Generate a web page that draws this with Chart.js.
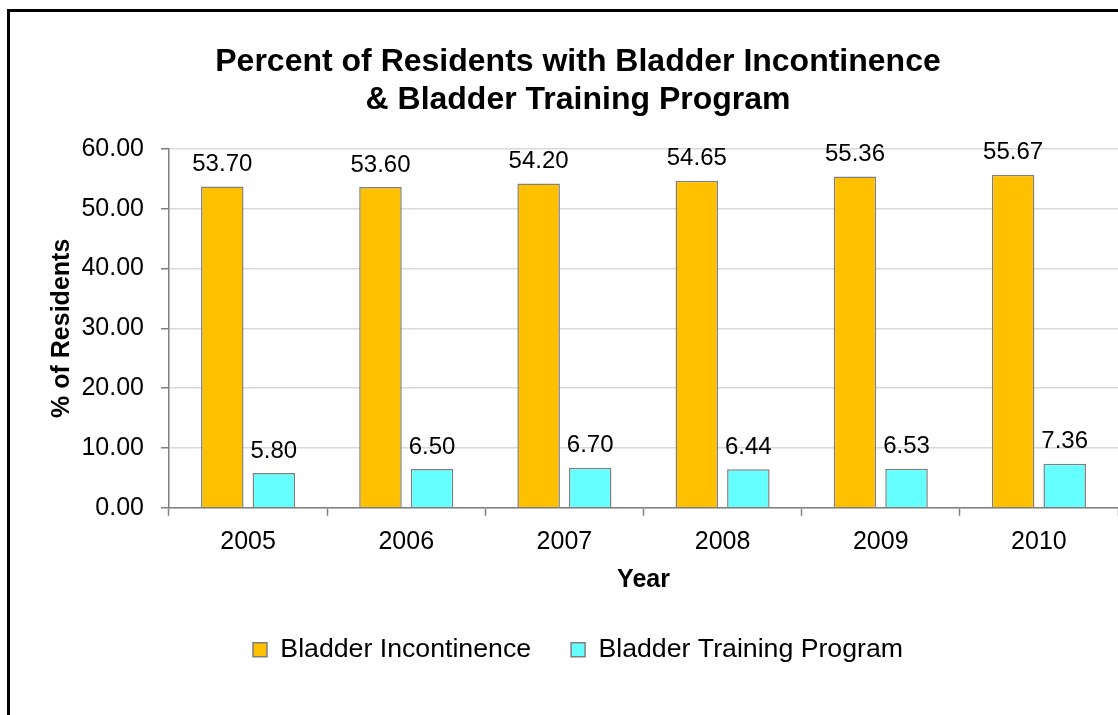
<!DOCTYPE html>
<html>
<head>
<meta charset="utf-8">
<script src="https://cdn.jsdelivr.net/npm/chart.js@4.4.1/dist/chart.umd.min.js"></script>
<style>
  html, body { margin: 0; padding: 0; background: #ffffff; overflow: hidden; width: 1118px; height: 715px; }
  #frame { position: absolute; left: 7px; top: 9px; width: 2000px; height: 2000px; border-left: 3px solid #000; border-top: 3px solid #000; box-sizing: border-box; }
  #wrap { position: absolute; left: 38px; top: 0; width: 1120px; height: 715px; }
</style>
</head>
<body>
<div id="frame"></div>
<div id="wrap"><canvas id="c" width="1120" height="715"></canvas></div>
<script>
const categories = ['2005', '2006', '2007', '2008', '2009', '2010'];
const incontinence = [53.70, 53.60, 54.20, 54.65, 55.36, 55.67];
const training = [5.80, 6.50, 6.70, 6.44, 6.53, 7.36];
const seriesNames = ['Bladder Incontinence', 'Bladder Training Program'];
const titleLines = ['Percent of Residents with Bladder Incontinence', '& Bladder Training Program'];
const yMin = 0, yMax = 60, yStep = 10;

const FONT = "'Liberation Sans', Arial, sans-serif";

const valueLabels = {
  id: 'valueLabels',
  afterDatasetsDraw(chart) {
    const ctx = chart.ctx;
    ctx.save();
    ctx.font = '24px ' + FONT;
    ctx.fillStyle = '#000';
    ctx.textAlign = 'center';
    ctx.textBaseline = 'middle';
    chart.data.datasets.forEach((ds, di) => {
      const meta = chart.getDatasetMeta(di);
      meta.data.forEach((bar, i) => {
        ctx.fillText(ds.data[i].toFixed(2), bar.x, bar.y - 22);
      });
    });
    ctx.restore();
  }
};

new Chart(document.getElementById('c'), {
  type: 'bar',
  data: {
    labels: categories,
    datasets: [
      { label: seriesNames[0], data: incontinence, backgroundColor: '#FFC000', borderColor: '#7F7F7F', borderWidth: 1.5,
        categoryPercentage: 0.652, barPercentage: 0.825 },
      { label: seriesNames[1], data: training, backgroundColor: '#66FFFF', borderColor: '#7F7F7F', borderWidth: 1.5,
        categoryPercentage: 0.652, barPercentage: 0.825 }
    ]
  },
  options: {
    responsive: false,
    animation: false,
    events: [],
    layout: { padding: { left: 0, right: 40, top: 0, bottom: 42 } },
    plugins: {
      title: {
        display: true,
        text: titleLines,
        color: '#000',
        font: { family: FONT, size: 32, weight: 'bold', lineHeight: 1.2 },
        padding: { top: 43, bottom: 29 }
      },
      legend: {
        display: true,
        position: 'bottom',
        labels: {
          color: '#000',
          font: { family: FONT, size: 26.7 },
          boxWidth: 14,
          boxHeight: 14,
          padding: 40
        }
      },
      tooltip: { enabled: false }
    },
    scales: {
      x: {
        grid: { offset: true, drawOnChartArea: false, tickLength: 8, tickColor: '#808080', tickWidth: 1.5 },
        border: { color: '#808080', width: 1.5 },
        ticks: { color: '#000', font: { family: FONT, size: 25 }, padding: 11, maxRotation: 0 },
        title: { display: true, text: 'Year', color: '#000', font: { family: FONT, size: 25, weight: 'bold', lineHeight: 1.0 }, padding: { top: 0, bottom: 3.5 } }
      },
      y: {
        min: yMin, max: yMax,
        afterFit(scale) { scale.width = 131; },
        grid: { color: '#D9D9D9', tickColor: '#808080', tickLength: 8, lineWidth: 1.5, tickWidth: 1.5 },
        border: { color: '#808080', width: 1.5 },
        ticks: { stepSize: yStep, color: '#000', font: { family: FONT, size: 25 }, padding: 17,
          callback: v => Number(v).toFixed(2) },
        title: { display: true, text: '% of Residents', color: '#000', font: { family: FONT, size: 25, weight: 'bold' }, padding: { top: 9, bottom: 0 } }
      }
    }
  },
  plugins: [valueLabels]
});
</script>
</body>
</html>
